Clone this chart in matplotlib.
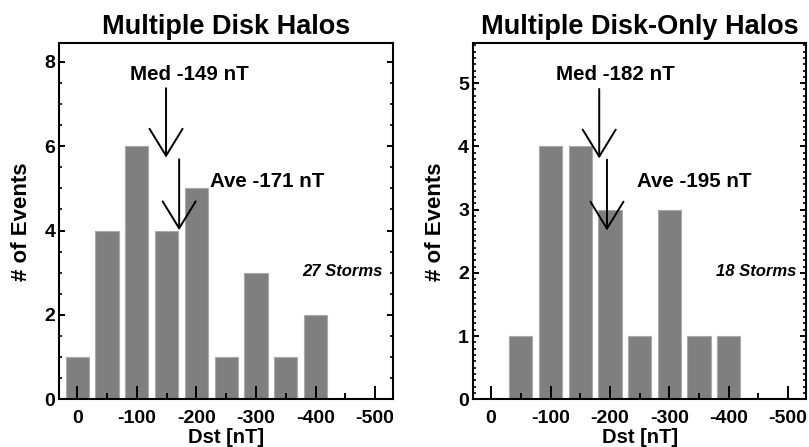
import numpy as np
import matplotlib
matplotlib.use("Agg")
import matplotlib.pyplot as plt
from matplotlib.ticker import MultipleLocator

plt.rcParams['font.family'] = ['Liberation Sans', 'DejaVu Sans']
plt.rcParams['font.weight'] = 'bold'

# Dst bins (nT) and event counts per bin
dst_bins = [0, -50, -100, -150, -200, -250, -300, -350, -400]
counts_all = [1, 4, 6, 4, 5, 1, 3, 1, 2]
counts_disk_only = [0, 1, 4, 4, 3, 1, 3, 1, 1]

titles = ["Multiple Disk Halos", "Multiple Disk-Only Halos"]
storm_labels = ["27 Storms", "18 Storms"]

# median / average Dst and where each arrow tip sits on the count axis
med_vals = [-149, -182]
ave_vals = [-171, -195]
med_tip = [5.73, 3.81]
ave_tip = [4.01, 2.67]

# label anchors (x, y) in data units
med_text_pos = [(-189, 7.57), (-209, 5.05)]
ave_text_pos = [(-222, 5.04), (-245, 3.36)]
storm_text_pos = [(-512, 2.92), (-513, 1.95)]

ymax = [8.44, 5.63]
ymajor = [2, 1]
yminor = [0.5, 0.1]


def panel(ax, i, counts):
    ax.bar(dst_bins, counts, width=39, color='#7f7f7f', edgecolor='#aaaaaa',
           linewidth=0.8, zorder=1)
    ax.set_xlim(30, -530)
    ax.set_ylim(0, ymax[i])

    ax.xaxis.set_major_locator(MultipleLocator(100))
    ax.xaxis.set_minor_locator(MultipleLocator(50))
    ax.yaxis.set_major_locator(MultipleLocator(ymajor[i]))
    ax.yaxis.set_minor_locator(MultipleLocator(yminor[i]))
    ax.xaxis.set_major_formatter(plt.FuncFormatter(lambda v, p: "%d" % round(v)))

    ax.tick_params(axis='x', which='major', direction='in', length=9.4, width=1.4,
                   labelsize=14, pad=7.5, top=False)
    ax.tick_params(axis='x', which='minor', direction='in', length=4.3, width=1.4,
                   top=False)
    ax.tick_params(axis='y', which='major', direction='in', length=4.5, width=1.4,
                   labelsize=14, pad=3, left=True, right=True)
    ax.tick_params(axis='y', which='minor', direction='in', length=2.2, width=1.2,
                   left=True, right=True)
    for s in ax.spines.values():
        s.set_linewidth(1.5)

    ax.set_title(titles[i], fontsize=19.5, fontweight='bold', pad=7)
    ax.set_xlabel("Dst [nT]", fontsize=14.5, fontweight='bold', labelpad=1)
    ax.set_ylabel("# of Events", fontsize=16, fontweight='bold', labelpad=9)

    arrow = dict(arrowstyle='->, head_length=19.4, head_width=11.9',
                 mutation_scale=1, lw=1.4, color='black', shrinkA=0, shrinkB=0)
    ax.annotate("", xy=(med_vals[i], med_tip[i]), xytext=(0, 50),
                textcoords='offset points', arrowprops=arrow)
    ax.annotate("", xy=(ave_vals[i], ave_tip[i]), xytext=(0, 51),
                textcoords='offset points', arrowprops=arrow)

    ax.text(*med_text_pos[i], "Med %d nT" % med_vals[i], ha='center',
            va='baseline', fontsize=14.8, fontweight='bold')
    ax.text(*ave_text_pos[i], "Ave %d nT" % ave_vals[i], ha='left',
            va='baseline', fontsize=14.8, fontweight='bold')
    ax.text(*storm_text_pos[i], storm_labels[i], ha='right', va='baseline',
            fontsize=12, fontweight='bold', style='italic')


fig = plt.figure(figsize=(8.09, 4.47), dpi=100)
ax1 = fig.add_axes([0.0735, 0.1067, 0.4122, 0.7964])
ax2 = fig.add_axes([0.585, 0.1067, 0.4113, 0.7964])
panel(ax1, 0, counts_all)
panel(ax2, 1, counts_disk_only)

fig.savefig("out.png", dpi=100)
